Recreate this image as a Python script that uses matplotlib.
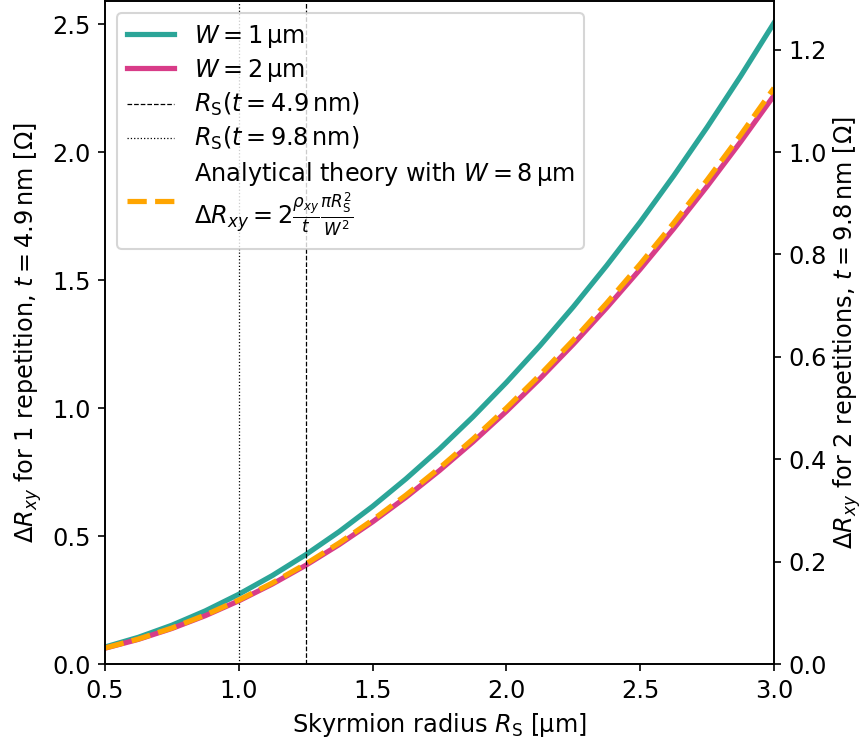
import numpy as np
import matplotlib
matplotlib.use("Agg")
import matplotlib.pyplot as plt

plt.rcParams["font.size"] = 11.5

# skyrmion radius [um]
radius = [0.5, 0.625, 0.75, 0.875, 1.0, 1.125, 1.25, 1.375, 1.5, 1.625, 1.75,
          1.875, 2.0, 2.125, 2.25, 2.375, 2.5, 2.625, 2.75, 2.875, 3.0]

# Delta R_xy [Ohm] for 1 repetition
dr_w1 = [0.0663, 0.1045, 0.1516, 0.2077, 0.2725, 0.3455, 0.4270, 0.5171, 0.6159,
         0.7236, 0.8399, 0.9655, 1.1000, 1.2429, 1.3953, 1.5568, 1.7266, 1.9070,
         2.0967, 2.2958, 2.5043]
dr_w2 = [0.0617, 0.0964, 0.1388, 0.1889, 0.2468, 0.3123, 0.3855, 0.4665, 0.5552,
         0.6516, 0.7557, 0.8675, 0.9870, 1.1142, 1.2492, 1.3919, 1.5422, 1.7003,
         1.8660, 2.0395, 2.2208]
dr_theory = [0.0625, 0.0977, 0.1406, 0.1914, 0.2500, 0.3164, 0.3906, 0.4727, 0.5625,
             0.6602, 0.7656, 0.8789, 1.0000, 1.1289, 1.2656, 1.4102, 1.5625, 1.7227,
             1.8906, 2.0664, 2.2500]

# skyrmion radius for the two thicknesses
rs_t49 = 1.25
rs_t98 = 1.0

fig = plt.figure(figsize=(8.65 / 1.5, 7.43 / 1.5), dpi=150)
ax = fig.add_subplot(111)
fig.subplots_adjust(left=0.1214, right=0.8948, bottom=0.1063, top=0.9987)

ax.plot(radius, dr_w1, color="#2ba598", lw=2.5, label=r"$W = 1\,\mathrm{µm}$")
ax.plot(radius, dr_w2, color="#d83c88", lw=2.5, label=r"$W = 2\,\mathrm{µm}$")
ax.axvline(rs_t49, color="black", ls="--", lw=0.6,
           label=r"$R_\mathrm{S}(t = 4.9\,\mathrm{nm})$")
ax.axvline(rs_t98, color="black", ls=":", lw=0.6,
           label=r"$R_\mathrm{S}(t = 9.8\,\mathrm{nm})$")
ax.plot(radius, dr_theory, color="orange", ls="--", lw=2.5,
        label="Analytical theory with $W = 8\\,\\mathrm{µm}$\n"
              r"$\Delta R_{xy} = 2\frac{\rho_{xy}}{t}\frac{\pi R_\mathrm{S}^2}{W^2}$")

ax.set_xlim(0.5, 3.0)
ax.set_ylim(0, 2.59)
ax.set_xlabel(r"Skyrmion radius $R_\mathrm{S}$ [µm]")
ax.set_ylabel(r"$\Delta R_{xy}$ for 1 repetition, $t = 4.9\,\mathrm{nm}$ [$\Omega$]")
leg = ax.legend(loc="upper left", labelspacing=0.3)
leg.get_texts()[4].set_linespacing(1.1)

ax2 = ax.twinx()
ax2.set_ylim(0, 2.59 / 2)
ax2.set_ylabel(r"$\Delta R_{xy}$ for 2 repetitions, $t = 9.8\,\mathrm{nm}$ [$\Omega$]",
               labelpad=2)

fig.savefig("out.png", dpi=150)
